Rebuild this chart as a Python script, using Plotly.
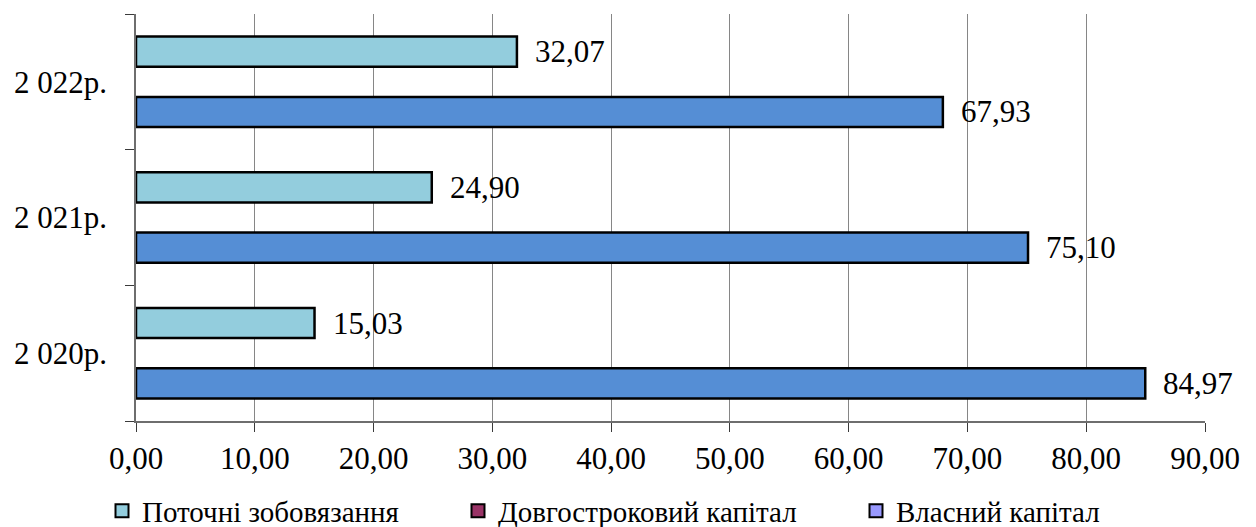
import plotly.graph_objects as go

# Capital structure by year, % of total
years = ["2 020р.", "2 021р.", "2 022р."]
current_liabilities = [15.03, 24.90, 32.07]   # Поточні зобовязання
long_term_capital = [0.0, 0.0, 0.0]           # Довгостроковий капітал
equity = [84.97, 75.10, 67.93]                # Власний капітал

series_names = ["Поточні зобовязання", "Довгостроковий капітал", "Власний капітал"]
x_ticks = [0, 10, 20, 30, 40, 50, 60, 70, 80, 90]

C_CURRENT = "#93CDDD"
C_LONG = "#993366"
C_EQUITY_BAR = "#558ED5"
C_EQUITY_KEY = "#9999FF"
SERIF = "Liberation Serif, Times New Roman, serif"
FS = 31

fig = go.Figure()

# bottom to top within each year: equity, long-term capital, current liabilities
fig.add_trace(go.Bar(
    y=years, x=equity, orientation="h", name=series_names[2],
    marker=dict(color=C_EQUITY_BAR, line=dict(color="black", width=2.5)),
    showlegend=False,
))
fig.add_trace(go.Bar(
    y=years, x=long_term_capital, orientation="h", name=series_names[1],
    marker=dict(color=C_LONG, line=dict(color="black", width=0)),
    showlegend=False,
))
fig.add_trace(go.Bar(
    y=years, x=current_liabilities, orientation="h", name=series_names[0],
    marker=dict(color=C_CURRENT, line=dict(color="black", width=2.5)),
    showlegend=False,
))

# legend keys
key_colors = [C_CURRENT, C_LONG, C_EQUITY_KEY]
legend_ids = ["legend", "legend2", "legend3"]
for name, col, lid in zip(series_names, key_colors, legend_ids):
    fig.add_trace(go.Scatter(
        x=[None], y=[None], mode="markers", name=name, legend=lid,
        marker=dict(symbol="square", size=13, color=col, line=dict(color="black", width=2)),
        showlegend=True,
    ))

# value labels next to bar ends
for vals, shift in ((current_liabilities, 30), (equity, -30)):
    for yr, v in zip(years, vals):
        fig.add_annotation(
            x=v, y=yr, text=f"{v:.2f}".replace(".", ","),
            showarrow=False, xanchor="left", yanchor="middle",
            xshift=16, yshift=shift,
            font=dict(family=SERIF, size=FS, color="black"),
        )

legend_common = dict(
    orientation="h", xref="container", yref="container",
    yanchor="middle", xanchor="left",
    font=dict(family=SERIF, size=29, color="black"),
    bgcolor="rgba(0,0,0,0)", itemwidth=30, tracegroupgap=0,
)
legend_x = [102, 458, 856]
legend_y = 1 - 511 / 527

fig.update_layout(
    width=1256, height=527,
    margin=dict(l=136, r=51, t=14, b=106, autoexpand=False),
    paper_bgcolor="white", plot_bgcolor="white",
    barmode="group", bargap=0.333, bargroupgap=0,
    separators=",.",
    legend=dict(legend_common, x=legend_x[0] / 1256, y=legend_y),
    legend2=dict(legend_common, x=legend_x[1] / 1256, y=legend_y),
    legend3=dict(legend_common, x=legend_x[2] / 1256, y=legend_y),
    font=dict(family=SERIF, size=FS, color="black"),
    xaxis=dict(
        range=[0, 90], tickvals=x_ticks, tickformat=".2f",
        showgrid=True, gridcolor="#868686", gridwidth=1,
        showline=True, linecolor="#6e6e6e", linewidth=1.5,
        ticks="outside", ticklen=9, tickcolor="#3a3a3a", tickwidth=1,
        zeroline=False,
        tickfont=dict(family=SERIF, size=FS, color="black"),
    ),
    yaxis=dict(
        categoryorder="array", categoryarray=years, range=[-0.5, 2.5],
        showline=True, linecolor="#6e6e6e", linewidth=1.5,
        ticks="outside", tickson="boundaries", ticklen=9,
        tickcolor="#3a3a3a", tickwidth=1, showgrid=False,
        tickfont=dict(family=SERIF, size=FS, color="black"),
        ticklabelstandoff=21,
    ),
)

fig.write_html("out.html")
